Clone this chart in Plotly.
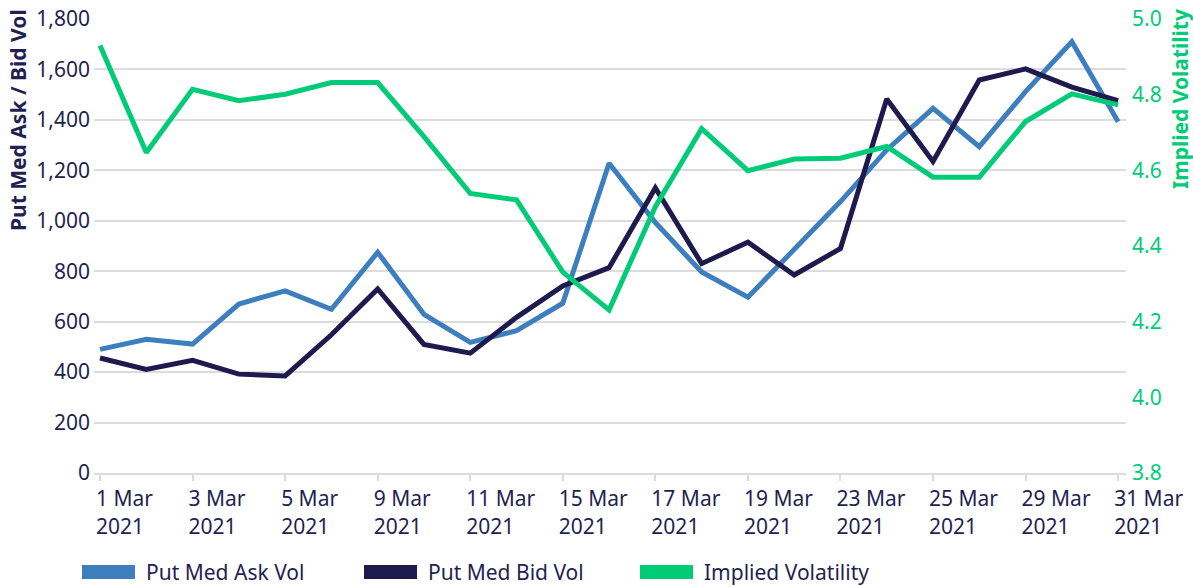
import plotly.graph_objects as go

days = [1, 2, 3, 4, 5, 8, 9, 10, 11, 12, 15, 16, 17, 18, 19, 22, 23, 24, 25, 26, 29, 30, 31]
categories = [f"{d} Mar 2021" for d in days]
tick_days = [1, 3, 5, 9, 11, 15, 17, 19, 23, 25, 29, 31]
tick_vals = [f"{d} Mar 2021" for d in tick_days]
tick_text = [f"{d} Mar<br>2021" for d in tick_days]

put_ask = [490, 530, 511, 670, 722, 649, 875, 629, 518, 564, 673, 1228, 993, 797,
           697, 886, 1076, 1281, 1446, 1294, 1512, 1710, 1393]
put_bid = [456, 411, 447, 392, 385, 548, 730, 510, 475, 617, 742, 814, 1130, 830,
           915, 785, 890, 1483, 1235, 1558, 1602, 1530, 1476]
implied_vol = [4.93, 4.647, 4.814, 4.784, 4.801, 4.832, 4.832, 4.689, 4.539, 4.522,
               4.331, 4.231, 4.504, 4.71, 4.599, 4.63, 4.632, 4.663, 4.582, 4.582,
               4.729, 4.802, 4.773]

left_title = "Put Med Ask / Bid Vol"
right_title = "Implied Volatility"

C_ASK = "#3D7EBF"
C_BID = "#1F1A4E"
C_IV = "#00CC78"
NAVY = "#231F50"
GRID = "#DCDCDC"
FONT = "Noto Sans"
FS = 21

W, H = 1193, 587
ML, MR, MT, MB = 94, 67, 19, 114
PW, PH = W - ML - MR, H - MT - MB

def px_x(px):
    return (px - ML) / PW

def px_y(py):
    return (H - MB - py) / PH

fig = go.Figure()
series = [("Put Med Ask Vol", put_ask, C_ASK, "y"),
          ("Put Med Bid Vol", put_bid, C_BID, "y"),
          ("Implied Volatility", implied_vol, C_IV, "y2")]
for name, vals, col, ax in series:
    fig.add_trace(go.Scatter(x=categories, y=vals, mode="lines", name=name,
                             line=dict(color=col, width=5), yaxis=ax,
                             showlegend=False))

# manual legend (wide rectangular swatches as in the reference)
legend_x = [82, 364, 640]
shapes, annotations = [], []
for (name, _, col, _), lx in zip(series, legend_x):
    shapes.append(dict(type="rect", xref="paper", yref="paper",
                       x0=px_x(lx), x1=px_x(lx + 53),
                       y0=px_y(579), y1=px_y(565),
                       fillcolor=col, line=dict(width=0)))
    annotations.append(dict(text=name, xref="paper", yref="paper",
                            x=px_x(lx + 62), y=px_y(572), xanchor="left",
                            yanchor="middle", showarrow=False,
                            font=dict(size=FS, color=NAVY, family=FONT)))

# top-aligned axis titles
annotations.append(dict(text=f"<b>{left_title}</b>", xref="paper", yref="paper",
                        x=px_x(18), y=px_y(7), xanchor="center", yanchor="top",
                        textangle=-90, showarrow=False,
                        font=dict(size=FS, color=NAVY, family=FONT)))
annotations.append(dict(text=f"<b>{right_title}</b>", xref="paper", yref="paper",
                        x=px_x(1180), y=px_y(7), xanchor="center", yanchor="top",
                        textangle=-90, showarrow=False,
                        font=dict(size=FS, color=C_IV, family=FONT)))

fig.update_layout(
    width=W, height=H,
    margin=dict(l=ML, r=MR, t=MT, b=MB, autoexpand=False),
    paper_bgcolor="white", plot_bgcolor="white",
    font=dict(family=FONT, color=NAVY, size=FS),
    showlegend=False,
    shapes=shapes, annotations=annotations,
    xaxis=dict(type="category", categoryorder="array", categoryarray=categories,
               range=[-0.13, 22.17], tickmode="array", tickvals=tick_vals,
               ticktext=tick_text, showgrid=False, showline=True,
               linecolor=GRID, linewidth=2, ticks="outside", ticklen=6,
               tickwidth=2, tickcolor=GRID, ticklabelposition="outside right",
               ticklabelshift=-6, ticklabelstandoff=6, automargin=False,
               tickfont=dict(size=FS, color=NAVY), zeroline=False),
    yaxis=dict(range=[0, 1800], dtick=200, tickformat=",d", showgrid=True,
               gridcolor=GRID, gridwidth=1.5, zeroline=False, automargin=False,
               tickfont=dict(size=FS, color=NAVY), ticks="",
               ticklabelstandoff=3),
    yaxis2=dict(range=[3.8, 5.0], dtick=0.2, tickformat=".1f", overlaying="y",
                side="right", showgrid=False, zeroline=False, automargin=False,
                tickfont=dict(size=FS, color=C_IV), ticklabelstandoff=5),
)

fig.write_html("out.html", config={"displayModeBar": False},
               post_script="document.body.style.margin='0px';"
                           "document.body.style.overflow='hidden';")
